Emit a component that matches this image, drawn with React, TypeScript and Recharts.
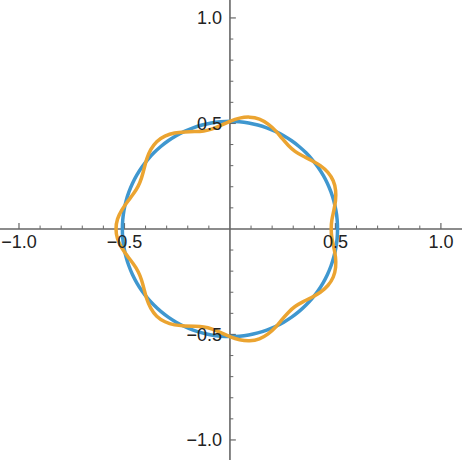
import React from 'react';
import { LineChart, Line, XAxis, YAxis, ReferenceLine } from 'recharts';

// polar readings of both curves (angle in degrees, radius in plot units)
const angleDeg = [
  0, 5, 10, 15, 20, 25, 30, 35, 40, 45, 50, 55, 60, 65, 70, 75, 80, 85,
  90, 95, 100, 105, 110, 115, 120, 125, 130, 135, 140, 145, 150, 155, 160, 165, 170, 175,
  180, 185, 190, 195, 200, 205, 210, 215, 220, 225, 230, 235, 240, 245, 250, 255, 260, 265,
  270, 275, 280, 285, 290, 295, 300, 305, 310, 315, 320, 325, 330, 335, 340, 345, 350, 355,
];

const blueRadius = [
  0.51, 0.51, 0.51, 0.51, 0.51, 0.51, 0.51, 0.51, 0.51, 0.51, 0.51, 0.51, 0.51, 0.51, 0.51, 0.51, 0.51, 0.51,
  0.51, 0.51, 0.51, 0.51, 0.51, 0.51, 0.51, 0.51, 0.51, 0.51, 0.51, 0.51, 0.51, 0.51, 0.51, 0.51, 0.51, 0.51,
  0.51, 0.51, 0.51, 0.51, 0.51, 0.51, 0.51, 0.51, 0.51, 0.51, 0.51, 0.51, 0.51, 0.51, 0.51, 0.51, 0.51, 0.51,
  0.51, 0.51, 0.51, 0.51, 0.51, 0.51, 0.51, 0.51, 0.51, 0.51, 0.51, 0.51, 0.51, 0.51, 0.51, 0.51, 0.51, 0.51,
];

const orangeRadius = [
  0.480, 0.485, 0.500, 0.518, 0.533, 0.540, 0.536, 0.523, 0.505, 0.489, 0.480, 0.483, 0.495, 0.513, 0.529, 0.539, 0.538, 0.527,
  0.510, 0.493, 0.482, 0.481, 0.491, 0.507, 0.525, 0.537, 0.540, 0.531, 0.515, 0.497, 0.484, 0.480, 0.487, 0.502, 0.520, 0.535,
  0.540, 0.535, 0.520, 0.502, 0.487, 0.480, 0.484, 0.497, 0.515, 0.531, 0.540, 0.537, 0.525, 0.507, 0.491, 0.481, 0.482, 0.493,
  0.510, 0.527, 0.538, 0.539, 0.529, 0.513, 0.495, 0.483, 0.480, 0.489, 0.505, 0.523, 0.536, 0.540, 0.533, 0.518, 0.500, 0.485,
];

const majorTicks = [-1, -0.5, 0.5, 1];
const majorTickLabels = ['\u22121.0', '\u22120.5', '0.5', '1.0'];
const minorTicks = [
  -0.9, -0.8, -0.7, -0.6, -0.4, -0.3, -0.2, -0.1, 0.1, 0.2, 0.3, 0.4, 0.6, 0.7, 0.8, 0.9,
];

const X_DOMAIN: [number, number] = [-1.09, 1.1];
const Y_DOMAIN: [number, number] = [-1.095, 1.085];

const AXIS_COLOR = '#666666';
const TEXT_COLOR = '#222222';
const BLUE = '#3f97cf';
const ORANGE = '#eba431';
const FONT = '"Liberation Sans", Arial, sans-serif';
const MAJOR_LEN = 0.028;
const MINOR_LEN = 0.016;

function toPoints(radii: number[]) {
  const n = angleDeg.length;
  const pts: { x: number; y: number }[] = [];
  for (let k = -3; k <= n + 3; k++) {
    const i = ((k % n) + n) % n;
    const a = (angleDeg[i] * Math.PI) / 180;
    pts.push({ x: radii[i] * Math.cos(a), y: radii[i] * Math.sin(a) });
  }
  return pts;
}

const bluePoints = toPoints(blueRadius);
const orangePoints = toPoints(orangeRadius);

const labelStyle = { fill: TEXT_COLOR, fontSize: 18, fontFamily: FONT };

export default function App() {
  return (
    <div style={{ position: 'absolute', left: 0, top: 0, width: 462, height: 460, background: '#fff' }}>
      <LineChart width={462} height={460} margin={{ top: 0, right: 0, bottom: 0, left: 0 }}>
        <XAxis type="number" dataKey="x" domain={X_DOMAIN} allowDataOverflow hide />
        <YAxis type="number" dataKey="y" domain={Y_DOMAIN} allowDataOverflow hide />
        <ReferenceLine y={0} stroke={AXIS_COLOR} strokeWidth={1.6} />
        <ReferenceLine x={0} stroke={AXIS_COLOR} strokeWidth={1.6} />
        {minorTicks.map((t) => (
          <ReferenceLine
            key={'mx' + t}
            segment={[{ x: t, y: 0 }, { x: t, y: MINOR_LEN }]}
            stroke={AXIS_COLOR}
            strokeWidth={1}
          />
        ))}
        {minorTicks.map((t) => (
          <ReferenceLine
            key={'my' + t}
            segment={[{ x: 0, y: t }, { x: MINOR_LEN, y: t }]}
            stroke={AXIS_COLOR}
            strokeWidth={1}
          />
        ))}
        {majorTicks.map((t, i) => (
          <ReferenceLine
            key={'Mx' + t}
            segment={[{ x: t, y: 0 }, { x: t, y: MAJOR_LEN }]}
            stroke={AXIS_COLOR}
            strokeWidth={1.2}
            label={{ value: majorTickLabels[i], position: 'bottom', offset: 6, ...labelStyle }}
          />
        ))}
        {majorTicks.map((t, i) => (
          <ReferenceLine
            key={'My' + t}
            segment={[{ x: 0, y: t }, { x: MAJOR_LEN, y: t }]}
            stroke={AXIS_COLOR}
            strokeWidth={1.2}
            label={{ value: majorTickLabels[i], position: 'left', offset: 8, ...labelStyle }}
          />
        ))}
        <Line
          data={bluePoints}
          dataKey="y"
          type="natural"
          stroke={BLUE}
          strokeWidth={3.5}
          dot={false}
          activeDot={false}
          isAnimationActive={false}
        />
        <Line
          data={orangePoints}
          dataKey="y"
          type="natural"
          stroke={ORANGE}
          strokeWidth={3.5}
          dot={false}
          activeDot={false}
          isAnimationActive={false}
        />
      </LineChart>
    </div>
  );
}
